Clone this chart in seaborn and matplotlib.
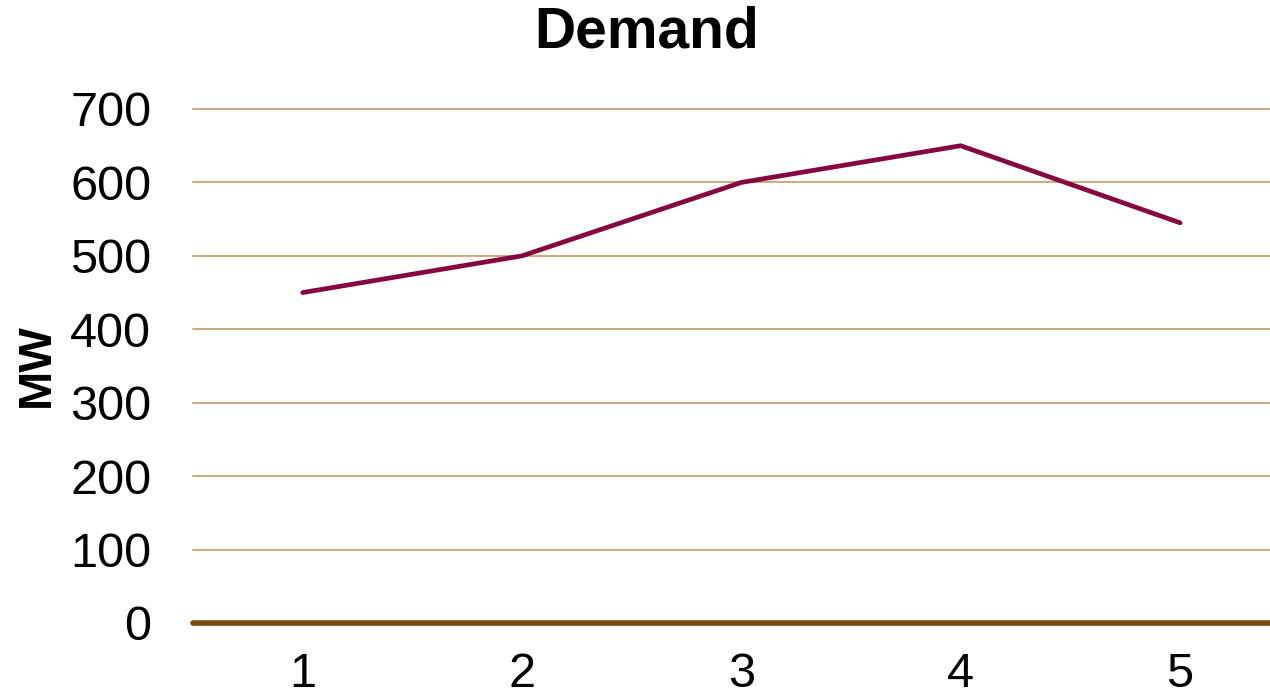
import matplotlib
matplotlib.use("Agg")
import matplotlib.pyplot as plt
import seaborn as sns
import pandas as pd

periods = [1, 2, 3, 4, 5]
demand_mw = [450, 500, 600, 650, 545]
y_ticks = [0, 100, 200, 300, 400, 500, 600, 700]

sns.set_theme(style="white")
plt.rcParams["font.family"] = ["Liberation Sans", "DejaVu Sans"]
plt.rcParams["text.color"] = "black"

df = pd.DataFrame({"Period": periods, "MW": demand_mw})

W, H = 1270, 698
fig = plt.figure(figsize=(W / 100, H / 100), dpi=100)
ax = fig.add_axes([193 / W, 1 - 623 / H, (W - 193) / W, (623 - 109) / H])

for t in y_ticks[1:]:
    ax.axhline(t, color="#C9AC7C", lw=1.4, zorder=1, clip_on=False)
ax.axhline(0, color="#7A4A12", lw=4, zorder=2, clip_on=False)

sns.lineplot(data=df, x="Period", y="MW", ax=ax, color="#85073F", lw=3.4,
             zorder=3, solid_capstyle="round")

ax.set_xlim(0.5, 5 + (W - 1180) / 219.5)
ax.set_ylim(0, 700)
ax.set_xticks(periods)
ax.set_yticks(y_ticks)
ax.tick_params(axis="y", labelsize=35, length=0, pad=30, colors="black")
ax.tick_params(axis="x", labelsize=35, length=0, pad=21, colors="black")
for s in ax.spines.values():
    s.set_visible(False)
ax.set_xlabel("")
ax.set_ylabel("")

fig.text(37 / W, 1 - 365 / H, "MW", rotation=90, fontsize=34, fontweight="bold",
         ha="center", va="center", color="black")
fig.text(647 / W, 1 - 33 / H, "Demand", fontsize=41, fontweight="bold",
         ha="center", va="center", color="black")

fig.savefig("out.png", dpi=100)
